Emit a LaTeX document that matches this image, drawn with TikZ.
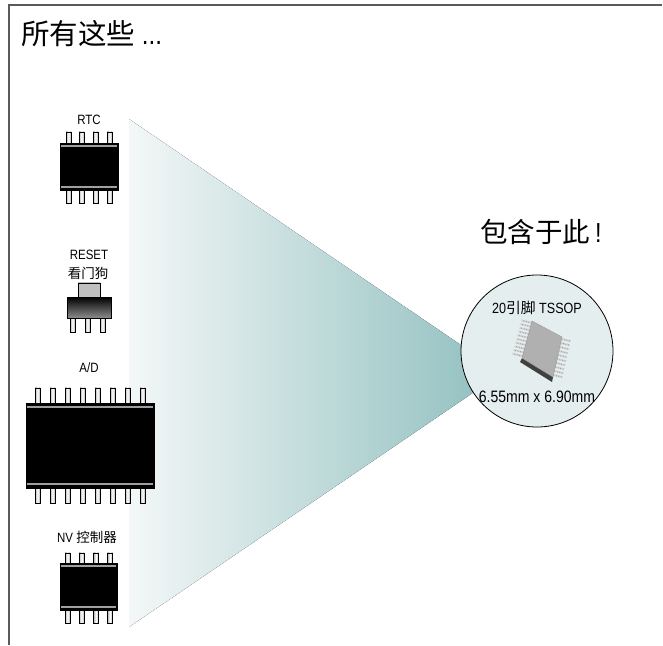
\documentclass[tikz,border=0pt]{standalone}
\usepackage{fontspec}
\setmainfont[FakeStretch=0.85]{Liberation Sans}
\newfontfamily\cjk{Noto Sans CJK SC}
\usepackage{tikz}
\usetikzlibrary{positioning, calc}
\definecolor{funnelL}{RGB}{243,247,247}
\definecolor{funnelR}{RGB}{143,190,190}
\definecolor{discfill}{RGB}{228,238,238}
\definecolor{framegray}{RGB}{90,90,90}

\begin{document}
\begin{tikzpicture}[x=1pt, y=-1pt]
	\tikzstyle{chipbody}=[rectangle, fill=black, draw=black, inner sep=0pt]
	\tikzstyle{leg}=[draw=black, line width=0.5pt, left color=gray!60, right color=gray!60, middle color=white]
	\tikzstyle{band}=[gray!75, line width=1.6pt]
	\tikzstyle{lbl}=[inner sep=1pt, font=\fontsize{13.5}{15}\selectfont]
	\tikzstyle{tsleg}=[gray!35, line width=2pt]

	\useasboundingbox (0,0) rectangle (663,645);
	\draw[framegray, line width=2pt] (9,645) -- (9,5) -- (662,5);

	\node[anchor=west, inner sep=0pt, font=\fontsize{28.5}{32}\selectfont] (title) at (21,34) {{\cjk 所有这些} ...};

	% funnel behind the package disc
	\fill[left color=funnelL, right color=funnelR] (129,119) -- (129,627) -- (502,373) -- cycle;

	% RTC, SO-8
	\node[chipbody, minimum width=58, minimum height=47] (rtc) at (89,166.5) {};
	\foreach \x in {-20.5,-7.5,6.5,20.5}{
		\draw[leg] ($(rtc.north)+(\x-2.5,0)$) rectangle ++(5,-11);
		\draw[leg] ($(rtc.south)+(\x-2.5,0)$) rectangle ++(5,13);
	}
	\draw[band] ($(rtc.north west)+(1,3)$) -- ($(rtc.north east)+(-1,3)$);
	\draw[band] ($(rtc.south west)+(1,-3)$) -- ($(rtc.south east)+(-1,-3)$);
	\node[lbl] (rtc-label) at (89,120) {RTC};

	% reset / watchdog, SOT-223
	\node[rectangle, draw=black, top color=black, bottom color=black!45, minimum width=44, minimum height=21, inner sep=0pt] (sot) at (89,307.5) {};
	\draw[leg, left color=gray!50, right color=gray!50] ($(sot.north)+(-11,0)$) rectangle ++(22,-14);
	\foreach \x in {-16.5,-1.5,13.5}{
		\draw[leg] ($(sot.south)+(\x-2.5,0)$) rectangle ++(5,14);
	}
	\node[lbl] (reset-label) at (89,255) {RESET};
	\node[lbl, font=\cjk\fontsize{13.5}{15}\selectfont] (wdt-label) at (88,273) {看门狗};

	% A/D, SO-16
	\node[chipbody, minimum width=128, minimum height=85] (adc) at (90,445.5) {};
	\foreach \i in {0,...,7}{
		\draw[leg] ($(adc.north)+(-55+15*\i,0)$) rectangle ++(5,-15);
		\draw[leg] ($(adc.south)+(-55+15*\i,0)$) rectangle ++(5,15);
	}
	\draw[band] ($(adc.north west)+(1,4)$) -- ($(adc.north east)+(-1,4)$);
	\draw[band] ($(adc.south west)+(1,-4)$) -- ($(adc.south east)+(-1,-4)$);
	\node[lbl] (adc-label) at (89,368) {A/D};

	% NV controller, SO-8
	\node[chipbody, minimum width=57, minimum height=47] (nvc) at (88.5,586.5) {};
	\foreach \x in {-21,-7,7.5,21.5}{
		\draw[leg] ($(nvc.north)+(\x-2.5,0)$) rectangle ++(5,-10);
		\draw[leg] ($(nvc.south)+(\x-2.5,0)$) rectangle ++(5,13);
	}
	\draw[band] ($(nvc.north west)+(1,3)$) -- ($(nvc.north east)+(-1,3)$);
	\draw[band] ($(nvc.south west)+(1,-3)$) -- ($(nvc.south east)+(-1,-3)$);
	\node[lbl] (nvc-label) at (87,537) {NV {\cjk 控制器}};

	% the single package
	\node[font=\fontsize{27.5}{31}\selectfont] (here) at (541,232) {{\cjk 包含于此}\,!};
	\node[circle, draw=black, line width=0.8pt, fill=discfill, minimum size=152, inner sep=0pt] (pkg) at (537,351) {};

	\coordinate (qa) at (532,321);
	\coordinate (qb) at (562,337);
	\coordinate (qc) at (553,377);
	\coordinate (qd) at (522,358);
	\foreach \i in {0,...,9}{
		\draw[tsleg] ($(qa)!{(\i+0.5)/10}!(qd)$) -- ++(-10,-2.5);
		\draw[black!55, line width=0.6pt, dotted] ($(qa)!{(\i+0.5)/10}!(qd)$) -- ++(-10,-2.5);
		\draw[tsleg] ($(qb)!{(\i+0.5)/10}!(qc)$) -- ++(9,2.2);
		\draw[black!55, line width=0.6pt, dotted] ($(qb)!{(\i+0.5)/10}!(qc)$) -- ++(9,2.2);
	}
	\fill[black!75] (qd) -- (qc) -- ($(qc)+(-1,5)$) -- ($(qd)+(-2,4)$) -- cycle;
	\filldraw[fill=gray!62, draw=gray!80] (qa) -- (qb) -- (qc) -- (qd) -- cycle;

	\node[lbl, font=\fontsize{14.8}{16}\selectfont] (pins) at (537,308) {20{\cjk 引脚} TSSOP};
	\node[lbl, font=\fontsize{16.5}{18}\selectfont] (size) at (537,397) {6.55mm x 6.90mm};
\end{tikzpicture}
\end{document}
